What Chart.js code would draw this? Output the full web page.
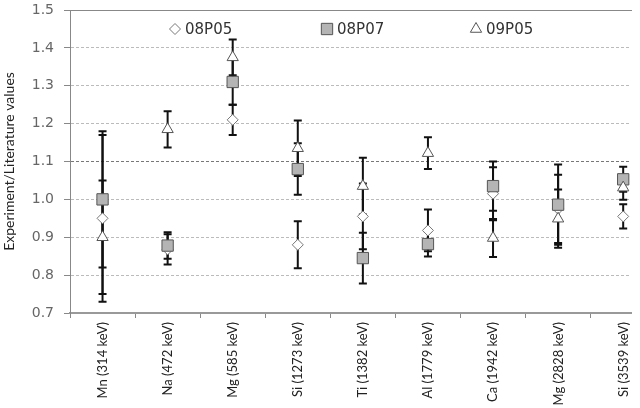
<!DOCTYPE html>
<html>
<head>
<meta charset="utf-8">
<script src="https://cdn.jsdelivr.net/npm/chart.js"></script>
<style>
  body { margin: 0; background: #fff; }
  #wrap { width: 640px; height: 408px; }
</style>
</head>
<body>
<div id="wrap"><canvas id="ratioChart" width="640" height="408"></canvas></div>
<script>
// categories (gamma lines)
var categories = ["Mn (314 keV)", "Na (472 keV)", "Mg (585 keV)", "Si (1273 keV)", "Ti (1382 keV)",
  "Al (1779 keV)", "Ca (1942 keV)", "Mg (2828 keV)", "Si (3539 keV)"];

// ratio values and their errors
var s08P05 = [0.95, 0.868, 1.21, 0.88, 0.955, 0.918, 1.015, 0.975, 0.955];
var e08P05 = [0.22, 0.04, 0.04, 0.062, 0.087, 0.055, 0.07, 0.09, 0.032];
var s08P07 = [1.00, 0.878, 1.31, 1.08, 0.845, 0.882, 1.035, 0.986, 1.053];
var e08P07 = [0.18, 0.035, 0.06, 0.068, 0.067, 0.033, 0.065, 0.106, 0.033];
var s09P05 = [0.90, 1.185, 1.375, 1.135, 1.035, 1.122, 0.898, 0.949, 1.031];
var e09P05 = [0.15, 0.048, 0.047, 0.073, 0.075, 0.042, 0.05, 0.077, 0.032];

var yTicks = [0.7, 0.8, 0.9, 1.0, 1.1, 1.2, 1.3, 1.4, 1.5];

function points(values) {
  return values.map(function (v, i) { return { x: i, y: v }; });
}

// error bars drawn under all markers
var errorBars = {
  id: 'errorBars',
  beforeDatasetsDraw: function (chart) {
    var ctx = chart.ctx, xs = chart.scales.x, ys = chart.scales.y;
    ctx.save();
    ctx.strokeStyle = '#111';
    ctx.lineWidth = 2;
    chart.data.datasets.forEach(function (ds) {
      ds.data.forEach(function (p, i) {
        var px = xs.getPixelForValue(p.x);
        var top = ys.getPixelForValue(p.y + ds.errors[i]);
        var bot = ys.getPixelForValue(p.y - ds.errors[i]);
        ctx.beginPath();
        ctx.moveTo(px, top); ctx.lineTo(px, bot);
        ctx.moveTo(px - 4, top); ctx.lineTo(px + 4, top);
        ctx.moveTo(px - 4, bot); ctx.lineTo(px + 4, bot);
        ctx.stroke();
      });
    });
    ctx.restore();
  }
};

// legend sits inside the plot area, like the original
var innerLegend = {
  id: 'innerLegend',
  afterDraw: function (chart) {
    var ctx = chart.ctx;
    var order = ['08P05', '08P07', '09P05'];
    var xs = [175, 327, 476];
    var y = chart.chartArea.top + 19;
    ctx.save();
    order.forEach(function (name, k) {
      var ds = chart.data.datasets.find(function (d) { return d.label === name; });
      ctx.fillStyle = ds.pointBackgroundColor;
      ctx.strokeStyle = ds.pointBorderColor;
      ctx.lineWidth = ds.pointBorderWidth;
      Chart.helpers.drawPoint(ctx, { pointStyle: ds.pointStyle, radius: ds.pointRadius, rotation: 0, borderWidth: ds.pointBorderWidth }, xs[k], y);
      ctx.fillStyle = '#333';
      ctx.font = '15px "DejaVu Sans"';
      ctx.textBaseline = 'middle';
      ctx.textAlign = 'left';
      ctx.fillText(name, xs[k] + 10, y + 1);
    });
    ctx.restore();
  }
};

var ctx = document.getElementById("ratioChart");
var myChart = new Chart(ctx, {
  type: 'scatter',
  data: {
    datasets: [
      {
        label: '09P05',
        data: points(s09P05),
        errors: e09P05,
        order: 0,
        pointStyle: 'triangle',
        pointRadius: 6.5,
        pointBackgroundColor: '#ffffff',
        pointBorderColor: '#555555',
        pointBorderWidth: 1
      },
      {
        label: '08P07',
        data: points(s08P07),
        errors: e08P07,
        order: 1,
        pointStyle: 'rect',
        pointRadius: 8,
        pointBackgroundColor: '#b4b4b4',
        pointBorderColor: '#555555',
        pointBorderWidth: 1
      },
      {
        label: '08P05',
        data: points(s08P05),
        errors: e08P05,
        order: 2,
        pointStyle: 'rectRot',
        pointRadius: 5.5,
        pointBackgroundColor: '#ffffff',
        pointBorderColor: '#777777',
        pointBorderWidth: 1
      }
    ]
  },
  options: {
    responsive: false,
    animation: false,
    layout: { padding: { top: 10, right: 5, left: 0, bottom: 0 } },
    plugins: {
      legend: { display: false },
      tooltip: { enabled: false }
    },
    scales: {
      x: {
        type: 'linear',
        position: 'bottom',
        min: -0.5,
        max: 8.12,
        afterBuildTicks: function (scale) {
          scale.ticks = categories.map(function (c, i) { return { value: i - 0.5 }; });
        },
        afterFit: function (scale) {
          scale.height = 95;
          scale.paddingLeft = 0;
          scale.paddingRight = 0;
        },
        ticks: {
          autoSkip: false,
          minRotation: 90,
          maxRotation: 90,
          labelOffset: 32.8,
          padding: 4,
          color: '#222',
          font: { family: 'Lato', size: 13 },
          callback: function (value, index) { return categories[index]; }
        },
        grid: {
          drawOnChartArea: false,
          tickLength: 5,
          tickColor: '#888'
        },
        border: { color: '#999', width: 2 }
      },
      xTop: {
        type: 'linear',
        position: 'top',
        ticks: { display: false },
        grid: { display: false, drawTicks: false },
        afterFit: function (scale) { scale.height = 0; },
        border: { color: '#888', width: 1 }
      },
      y: {
        type: 'linear',
        min: 0.7,
        max: 1.5,
        afterBuildTicks: function (scale) {
          scale.ticks = yTicks.map(function (v) { return { value: v }; });
        },
        afterFit: function (scale) {
          scale.width = 70;
          scale.paddingTop = 0;
          scale.paddingBottom = 0;
        },
        ticks: {
          padding: 10,
          color: '#666',
          font: { family: 'DejaVu Sans', size: 14 },
          callback: function (v) { return v.toFixed(1); }
        },
        grid: {
          color: function (c) {
            return (c.tick && Math.abs(c.tick.value - 1.1) < 0.001) ? '#777' : '#bbb';
          },
          tickLength: 6,
          tickColor: '#888',
          tickBorderDash: []
        },
        border: { color: '#888', width: 1, dash: [3, 2] },
        title: {
          display: true,
          text: 'Experiment/Literature values',
          color: '#222',
          font: { family: 'Lato', size: 14 },
          padding: { top: 1, bottom: 0 }
        }
      }
    }
  },
  plugins: [errorBars, innerLegend]
});
</script>
</body>
</html>
